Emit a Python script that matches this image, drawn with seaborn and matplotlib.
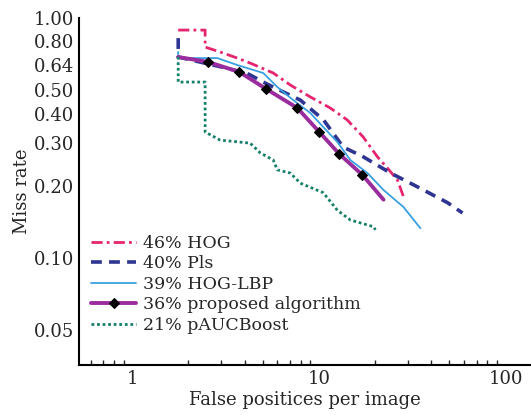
import numpy as np
import pandas as pd
import seaborn as sns
import matplotlib.pyplot as plt

# curvas (FPPI, miss rate)
hog_x = [1.765, 2.46, 2.46, 2.96, 3.66, 4.29, 5.70, 7.03, 9.00, 11.5, 14.2, 17.3, 20.6, 23.3, 26.4, 28.4]
hog_y = [0.891, 0.891, 0.757, 0.722, 0.681, 0.649, 0.590, 0.526, 0.469, 0.422, 0.376, 0.319, 0.264, 0.237, 0.211, 0.180]

pls_x = [1.765, 1.765, 2.96, 4.1, 5.3, 7.96, 10.6, 13.5, 17.3, 24.2, 33.7, 48.9, 58.8]
pls_y = [0.825, 0.688, 0.627, 0.59, 0.53, 0.455, 0.376, 0.290, 0.264, 0.226, 0.198, 0.170, 0.154]

lbp_x = [1.765, 1.765, 2.86, 3.66, 5.04, 5.99, 7.30, 9.00, 10.57, 12.57, 14.75, 18.2, 22.2, 28.4, 35.0]
lbp_y = [0.722, 0.681, 0.681, 0.637, 0.590, 0.516, 0.455, 0.402, 0.351, 0.304, 0.256, 0.226, 0.192, 0.163, 0.133]

prop_x = [1.765, 2.556, 3.75, 5.23, 7.67, 10.06, 12.88, 17.1, 22.2]
prop_y = [0.688, 0.656, 0.596, 0.506, 0.422, 0.335, 0.271, 0.222, 0.175]
prop_mark = [1, 2, 3, 4, 5, 6, 7]  # indices con rombo

pauc_x = [1.765, 1.765, 2.46, 2.46, 2.96, 4.29, 4.86, 5.70, 5.99, 7.03, 7.96, 10.57, 12.57, 14.75, 19.6, 20.1]
pauc_y = [0.69, 0.541, 0.541, 0.335, 0.310, 0.301, 0.274, 0.256, 0.233, 0.226, 0.205, 0.187, 0.158, 0.144, 0.135, 0.131]

labels = ["46% HOG", "40% Pls", "39% HOG-LBP", "36% proposed algorithm", "21% pAUCBoost"]
yticks = [0.05, 0.10, 0.20, 0.30, 0.40, 0.50, 0.64, 0.80, 1.00]
xticks = [1, 10, 100]

sns.set_style("white")
plt.rcParams['font.family'] = ['DejaVu Serif']

fig = plt.figure(figsize=(5.31, 4.15), dpi=100)
ax = fig.add_axes([0.149, 0.1205, 0.85, 0.836])

sns.lineplot(x=hog_x, y=hog_y, ax=ax, sort=False, estimator=None, color='#e5256f',
             linestyle=(0, (4, 1.5, 1, 1.5)), linewidth=2, label=labels[0])
sns.lineplot(x=pls_x, y=pls_y, ax=ax, sort=False, estimator=None, color='#2f3592',
             linestyle=(0, (3, 2)), linewidth=2.6, label=labels[1])
sns.lineplot(x=lbp_x, y=lbp_y, ax=ax, sort=False, estimator=None, color='#3a9fe0',
             linewidth=1.3, label=labels[2])
sns.lineplot(x=prop_x, y=prop_y, ax=ax, sort=False, estimator=None, color='#9a2c9e',
             linewidth=2.8, marker='D', markersize=5.5, markevery=prop_mark,
             markerfacecolor='black', markeredgecolor='black', label=labels[3])
sns.lineplot(x=pauc_x, y=pauc_y, ax=ax, sort=False, estimator=None, color='#15806a',
             linestyle=(0, (1, 1)), linewidth=2, label=labels[4])

ax.set_xscale('log')
ax.set_yscale('log')
ax.set_xlim(0.52, 136)
ax.set_ylim(0.0358, 1.0)
ax.set_yticks(yticks)
ax.set_yticklabels([f"{v:.2f}" for v in yticks])
ax.yaxis.set_minor_locator(plt.NullLocator())
ax.set_xticks(xticks)
ax.set_xticklabels([str(v) for v in xticks])
ax.tick_params(axis='both', which='major', direction='in', length=6, width=1.2, labelsize=13)
ax.tick_params(axis='x', which='minor', direction='in', length=3.5, width=1, bottom=True)
ax.tick_params(axis='y', which='minor', left=False)

sns.despine(ax=ax)
for s in ['left', 'bottom']:
    ax.spines[s].set_linewidth(1.5)
    ax.spines[s].set_color('black')

ax.set_xlabel("False positices per image", fontsize=13, labelpad=2)
ax.set_ylabel("Miss rate", fontsize=13, labelpad=2)

leg = ax.legend(loc='upper left', bbox_to_anchor=(0.0, 0.41), frameon=False,
                fontsize=12.5, handlelength=2.6, handletextpad=0.4, labelspacing=0.2,
                borderaxespad=0.3)

fig.savefig("out.png", dpi=100)
